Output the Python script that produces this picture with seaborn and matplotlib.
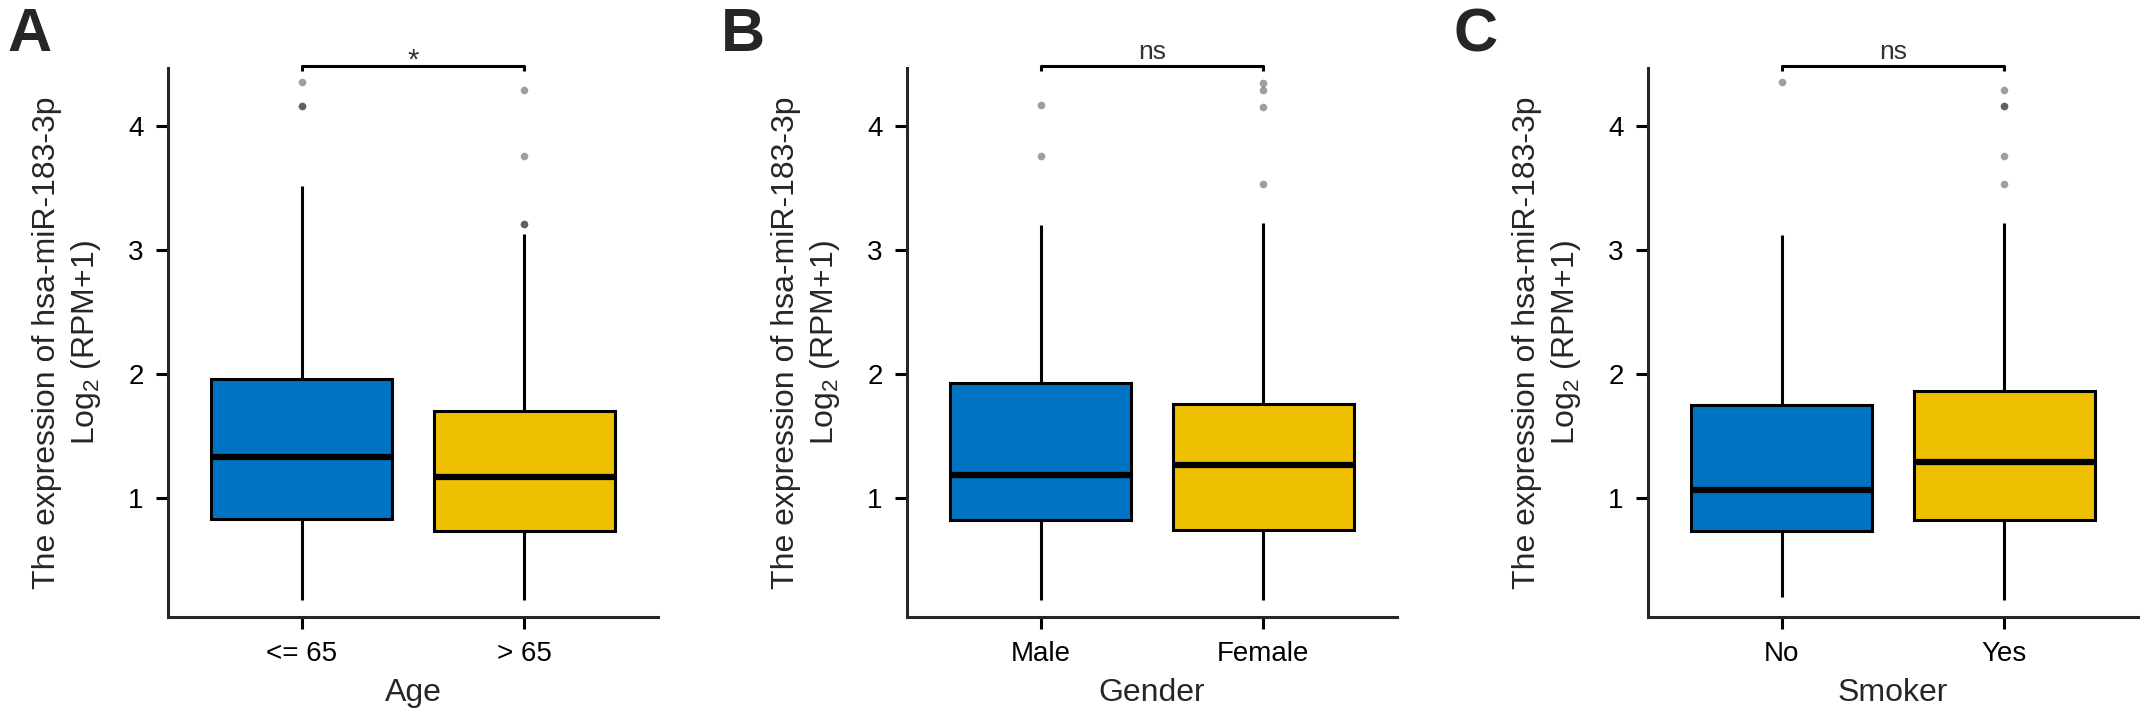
import numpy as np
import pandas as pd
import matplotlib
matplotlib.use("Agg")
import matplotlib.pyplot as plt
import seaborn as sns

# box summaries: whisker low, Q1, median, Q3, whisker high
age_groups = ["<= 65", "> 65"]
age_box = [[0.18, 0.831, 1.335, 1.964, 3.518],
           [0.18, 0.735, 1.173, 1.703, 3.131]]
age_out = [[4.162, 4.162, 4.353], [3.212, 3.212, 3.757, 4.29]]
age_sig = "*"

gender_groups = ["Male", "Female"]
gender_box = [[0.18, 0.823, 1.184, 1.928, 3.205],
              [0.18, 0.746, 1.272, 1.762, 3.216]]
gender_out = [[3.757, 4.166], [3.533, 4.153, 4.29, 4.35]]
gender_sig = "ns"

smoker_groups = ["No", "Yes"]
smoker_box = [[0.205, 0.735, 1.063, 1.751, 3.12],
              [0.18, 0.823, 1.291, 1.865, 3.216]]
smoker_out = [[4.353], [3.533, 3.757, 4.162, 4.162, 4.29]]
smoker_sig = "ns"

colors = ["#0073C2", "#EFC000"]

sns.set_style("ticks")
plt.rcParams["font.family"] = ["Liberation Sans", "DejaVu Sans"]
plt.rcParams["mathtext.fontset"] = "custom"
plt.rcParams["mathtext.rm"] = "Liberation Sans"
plt.rcParams["mathtext.default"] = "regular"

W, H = 2147, 715
fig = plt.figure(figsize=(W / 100, H / 100), dpi=100)


def draw_panel(left_px, letter_px, groups, boxes, outliers, xlabel, sig, letter):
    ax = fig.add_axes([left_px / W, 98.3 / H, 490 / W, 548.7 / H])

    box_df = pd.DataFrame([(g, v) for g, vals in zip(groups, boxes) for v in vals],
                          columns=["group", "value"])
    out_df = pd.DataFrame([(g, v) for g, vals in zip(groups, outliers) for v in vals],
                          columns=["group", "value"])

    sns.boxplot(data=box_df, x="group", y="value", hue="group", order=groups,
                hue_order=groups, palette=colors, saturation=1, width=0.81,
                whis=(0, 100), showfliers=False, showcaps=False, linewidth=2.2,
                linecolor="black", medianprops={"linewidth": 4.5}, legend=False, ax=ax)
    sns.stripplot(data=out_df, x="group", y="value", order=groups, jitter=False,
                  color="black", alpha=0.38, size=5.5, linewidth=0, ax=ax)

    ax.set_xlim(-0.6, 1.6)
    ax.set_ylim(0.046, 4.467)
    ax.set_yticks([1, 2, 3, 4])
    sns.despine(ax=ax)
    for s in ["left", "bottom"]:
        ax.spines[s].set_linewidth(2.2)
    ax.tick_params(length=8.5, width=2.2, labelsize=20, pad=9, colors="black")

    # significance bracket
    ax.plot([0, 0, 1, 1], [4.44, 4.486, 4.486, 4.44], color="black", lw=2.2,
            clip_on=False, solid_capstyle="butt")
    if sig == "*":
        ax.text(0.5, 4.46, sig, ha="center", va="baseline", fontsize=21,
                color="#333333", clip_on=False)
    else:
        ax.text(0.5, 4.537, sig, ha="center", va="baseline", fontsize=19,
                color="#333333", clip_on=False)

    ax.set_xlabel(xlabel, fontsize=23, labelpad=8)
    ax.set_ylabel("The expression of hsa-miR-183-3p\nLog$_2$ (RPM+1)",
                  fontsize=23, labelpad=18, linespacing=1.3)

    fig.text(letter_px / W, 1 - 7 / H, letter, fontsize=44, fontweight="bold",
             ha="left", va="top")
    return ax


draw_panel(168, 7, age_groups, age_box, age_out, "Age", age_sig, "A")
draw_panel(907, 721, gender_groups, gender_box, gender_out, "Gender", gender_sig, "B")
draw_panel(1648, 1453, smoker_groups, smoker_box, smoker_out, "Smoker", smoker_sig, "C")

fig.savefig("out.png", dpi=100)
